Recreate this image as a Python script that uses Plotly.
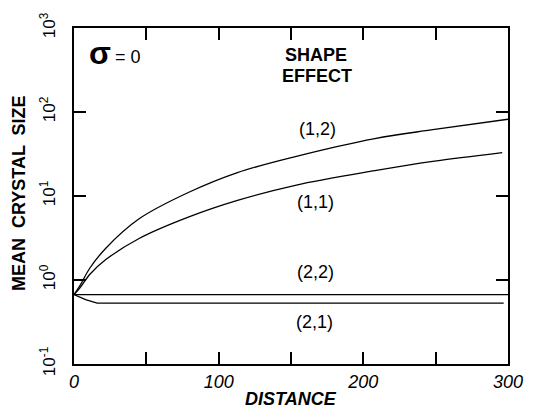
import math
import plotly.graph_objects as go

# Data
x_12 = [0, 4, 11, 22, 45, 79, 113, 153, 208, 248, 300]
y_12 = [0.67, 0.85, 1.39, 2.39, 5.35, 11, 19, 29.5, 48.3, 61.5, 82]
x_11 = [0, 4, 11, 22, 45, 79, 113, 153, 208, 248, 296]
y_11 = [0.67, 0.8, 1.17, 1.75, 3.12, 5.6, 8.86, 13.4, 20, 25.8, 32.9]
x_22 = [0, 300]
y_22 = [0.67, 0.67]
x_21 = [0, 8, 16, 297]
y_21 = [0.67, 0.585, 0.53, 0.53]

x_tickvals = [0, 50, 100, 150, 200, 250, 300]
x_ticktext = ["0", "", "100", "", "200", "", "300"]
y_tickvals = [0.1, 1, 10, 100, 1000]
y_ticktext = ["10<sup>-1</sup>", "10<sup>0</sup>", "10<sup>1</sup>", "10<sup>2</sup>", "10<sup>3</sup>"]

curve_labels = ["(1,2)", "(1,1)", "(2,2)", "(2,1)"]
label_x = [168, 167, 167, 166]
label_y = [62, 8.4, 1.24, 0.314]

FONT = "Liberation Sans, Arial, sans-serif"

fig = go.Figure()
fig.add_trace(go.Scatter(x=x_12, y=y_12, mode="lines", line=dict(color="black", width=1.3, shape="spline", smoothing=1.0)))
fig.add_trace(go.Scatter(x=x_11, y=y_11, mode="lines", line=dict(color="black", width=1.3, shape="spline", smoothing=1.0)))
fig.add_trace(go.Scatter(x=x_22, y=y_22, mode="lines", line=dict(color="black", width=1.3)))
fig.add_trace(go.Scatter(x=x_21, y=y_21, mode="lines", line=dict(color="black", width=1.3)))

annotations = []
for t, ax, ay in zip(curve_labels, label_x, label_y):
    annotations.append(dict(x=ax, y=math.log10(ay), xref="x", yref="y", text=t, showarrow=False,
                            font=dict(family=FONT, size=18, color="black")))
annotations += [
    dict(x=17.7, y=2.70, xref="x", yref="y", text="σ", showarrow=False,
         font=dict(family=FONT, size=32, color="black", weight="bold")),
    dict(x=37, y=2.66, xref="x", yref="y", text="= 0", showarrow=False,
         font=dict(family=FONT, size=18, color="black")),
    dict(x=167, y=math.log10(480), xref="x", yref="y", text="SHAPE", showarrow=False,
         font=dict(family=FONT, size=18, color="black", weight="bold")),
    dict(x=168, y=math.log10(265), xref="x", yref="y", text="EFFECT", showarrow=False,
         font=dict(family=FONT, size=18, color="black", weight="bold")),
    dict(x=0.5, y=-0.105, xref="paper", yref="paper", text="DISTANCE", showarrow=False,
         yanchor="middle", font=dict(family=FONT, size=18, color="black", weight="bold", style="italic")),
    dict(x=-0.128, y=0.51, xref="paper", yref="paper", text="MEAN  CRYSTAL  SIZE", showarrow=False,
         textangle=-90, xanchor="center", font=dict(family=FONT, size=18, color="black", weight="bold")),
]

fig.update_layout(
    width=535, height=420,
    margin=dict(l=74, r=19, t=23, b=56),
    paper_bgcolor="white", plot_bgcolor="white",
    showlegend=False,
    annotations=annotations,
    xaxis=dict(range=[0, 300], tickvals=x_tickvals, ticktext=x_ticktext,
               ticks="inside", ticklen=12, tickwidth=2, tickcolor="black",
               showline=True, linewidth=2, linecolor="black", mirror="ticks",
               showgrid=False, zeroline=False,
               tickfont=dict(family=FONT, size=18, color="black", style="italic")),
    yaxis=dict(type="log", range=[-1, 3], tickvals=y_tickvals, ticktext=y_ticktext,
               ticks="inside", ticklen=12, tickwidth=2, tickcolor="black",
               showline=True, linewidth=2, linecolor="black", mirror="ticks",
               showgrid=False, zeroline=False, tickangle=-90, ticklabelstandoff=10,
               tickfont=dict(family=FONT, size=17, color="black")),
)

fig.write_html("out.html")
